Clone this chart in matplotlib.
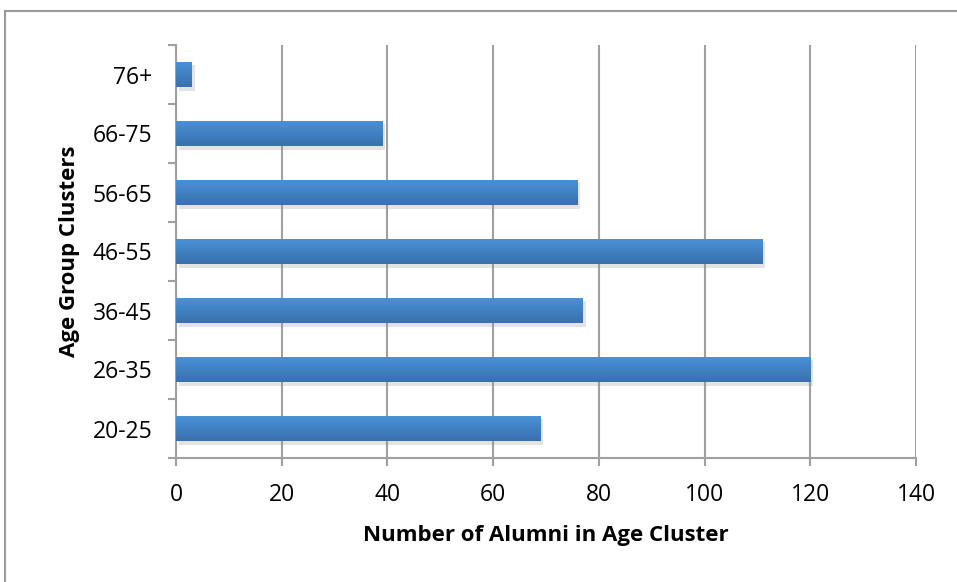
import numpy as np
import matplotlib.pyplot as plt
from matplotlib.patches import Rectangle
from matplotlib.colors import LinearSegmentedColormap
import matplotlib.patheffects as pe

age_groups = ["20-25", "26-35", "36-45", "46-55", "56-65", "66-75", "76+"]
alumni_counts = [69, 120, 77, 111, 76, 39, 3]
x_ticks = [0, 20, 40, 60, 80, 100, 120, 140]

plt.rcParams["font.family"] = ["Open Sans", "DejaVu Sans"]

fig = plt.figure(figsize=(9.57, 5.82), dpi=100)
# outer chart frame
fig.patches.append(Rectangle((5 / 957, -0.1), 1.2, (582 - 11) / 582 + 0.1, transform=fig.transFigure,
                             fill=False, edgecolor="#9a9a9a", linewidth=1.5))
ax = fig.add_axes([176 / 957, (582 - 458) / 582, 740 / 957, (458 - 45) / 582])

grey = "#a0a0a0"
ypos = np.arange(len(age_groups))
bars = ax.barh(ypos, alumni_counts, height=0.43, color="#4285c8", zorder=3,
               path_effects=[pe.SimplePatchShadow(offset=(2, -2.5), shadow_rgbFace="#909090", alpha=0.25),
                             pe.Normal()])

# vertical gradient inside each bar
cmap = LinearSegmentedColormap.from_list("bar", ["#3a70ad", "#4a92d8"])
grad = np.linspace(0, 1, 64).reshape(-1, 1)
for b in bars:
    x0, y0 = b.get_x(), b.get_y()
    im = ax.imshow(grad, cmap=cmap, aspect="auto", origin="lower",
                   extent=(x0, x0 + b.get_width(), y0, y0 + b.get_height()), zorder=4)
    im.set_clip_path(b)

ax.set_xlim(0, 140)
ax.set_ylim(-0.5, len(age_groups) - 0.5)
ax.set_xticks(x_ticks)
ax.set_yticks(ypos)
ax.set_yticklabels(age_groups)
ax.set_yticks(np.arange(-0.5, len(age_groups), 1), minor=True)
ax.tick_params(axis="y", which="major", length=0, pad=17, labelsize=16.5)
ax.tick_params(axis="y", which="minor", length=6, width=1.5, color=grey)
ax.tick_params(axis="x", length=6, width=1.5, color=grey, pad=12, labelsize=16.5)

ax.grid(axis="x", color=grey, linewidth=1.5, zorder=0)
ax.set_axisbelow(True)
for s in ["top", "right"]:
    ax.spines[s].set_visible(False)
for s in ["left", "bottom"]:
    ax.spines[s].set_color(grey)
    ax.spines[s].set_linewidth(1.5)

ax.set_xlabel("Number of Alumni in Age Cluster", fontsize=16, fontweight="bold", labelpad=13)
ax.set_ylabel("Age Group Clusters", fontsize=16, fontweight="bold", labelpad=9)

fig.savefig("out.png", dpi=100)
